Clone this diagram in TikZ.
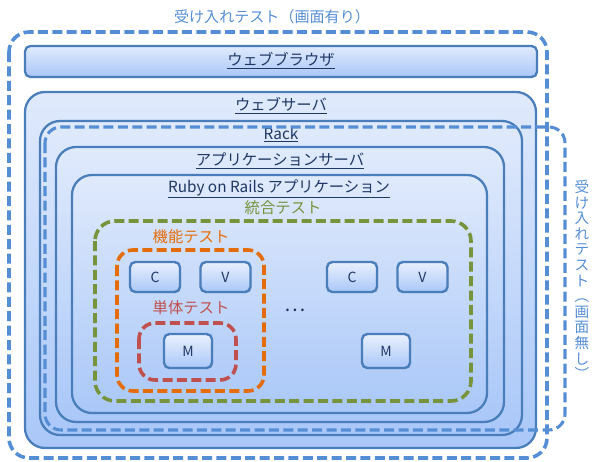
\documentclass[tikz,border=0pt]{standalone}
\usepackage{fontspec}
\setmainfont{Noto Sans CJK JP}
\usepackage{tikz}
\usetikzlibrary{shadows}
\definecolor{frame_blue}{HTML}{4A7EBB}
\definecolor{dash_blue}{HTML}{558ED5}
\definecolor{test_green}{HTML}{77933C}
\definecolor{test_orange}{HTML}{E46C0A}
\definecolor{test_red}{HTML}{C0504D}
\definecolor{label_navy}{HTML}{1F3763}
\definecolor{fill_top}{HTML}{E0EAFC}
\definecolor{fill_bottom}{HTML}{A9C7F8}

\begin{document}
\begin{tikzpicture}[x=0.75pt, y=-0.75pt,
  every node/.style={font=\fontsize{11.5}{13}\selectfont},
  layer/.style={draw=frame_blue, line width=1.7pt, rounded corners=15pt,
    top color=fill_top, bottom color=fill_bottom},
  testarea/.style={line width=2.7pt, dash pattern=on 7.5pt off 3.3pt, rounded corners=14pt},
  boxlabel/.style={text=label_navy},
  mvc/.style={draw=frame_blue, line width=1.8pt, rounded corners=4pt,
    top color=fill_top!70!white, bottom color=fill_bottom, inner sep=0pt,
    minimum width=37.5pt, minimum height=22.5pt, text=label_navy,
    font=\fontsize{10.5}{12}\selectfont,
    drop shadow={shadow xshift=0.8pt, shadow yshift=-0.8pt, opacity=0.3}}]

  \useasboundingbox (0,0) rectangle (600,461);

  % acceptance test with screen
  \draw[testarea, dash_blue, rounded corners=15pt] (9,32) rectangle (547,458);
  \node[text=dash_blue, font=\fontsize{11.3}{13}\selectfont] (accscreen) at (272,17) {受け入れテスト（画面有り）};

  \draw[layer, rounded corners=4pt, drop shadow={shadow xshift=0.8pt, shadow yshift=-0.8pt, opacity=0.25}] (25,46) rectangle (537,77);
  \node[boxlabel] (browser) at (281,61) {\underline{ウェブブラウザ}};

  \draw[layer] (25,92) rectangle (536,448);
  \node[boxlabel] (websrv) at (281,106) {\underline{ウェブサーバ}};

  \draw[layer] (40,121) rectangle (522,435);
  \node[boxlabel] (rack) at (281,135) {\underline{Rack}};

  % acceptance test without screen
  \draw[testarea, dash_blue, line width=2.3pt, rounded corners=12pt] (45,127) rectangle (565,430);
  \node[text=dash_blue, font=\fontsize{11}{11.7}\selectfont, align=center, inner sep=0pt] (accnoscreen) at (582,280)
    {受\\け\\入\\れ\\テ\\ス\\ト\\︵\\画\\面\\無\\し\\︶};

  \draw[layer] (56,147) rectangle (504,422);
  \node[boxlabel] (appsrv) at (280,161) {\underline{アプリケーションサーバ}};

  \draw[layer] (72,175) rectangle (487,413);
  \node[boxlabel] (rails) at (279,189) {\underline{Ruby on Rails アプリケーション}};

  % test areas
  \draw[testarea, test_green, rounded corners=15pt] (95,221) rectangle (471,401);
  \node[text=test_green] (integ) at (283,208) {統合テスト};

  \draw[testarea, test_orange, rounded corners=12pt] (117,250) rectangle (264,391);
  \node[text=test_orange] (func) at (191,237) {機能テスト};

  \draw[testarea, test_red, rounded corners=12pt] (139,323) rectangle (236,380);
  \node[text=test_red] (unit) at (191,308) {単体テスト};

  % components
  \node[mvc] (c1) at (155,277) {C};
  \node[mvc] (v1) at (225.5,277) {V};
  \node[mvc, minimum width=36pt, minimum height=25.5pt] (m1) at (188,351) {M};

  \node[boxlabel, font=\fontsize{15}{16}\selectfont] (dots) at (295,310) {…};

  \node[mvc] (c2) at (352,277) {C};
  \node[mvc] (v2) at (422.5,277) {V};
  \node[mvc, minimum width=36pt, minimum height=25.5pt] (m2) at (386,351) {M};

\end{tikzpicture}
\end{document}
